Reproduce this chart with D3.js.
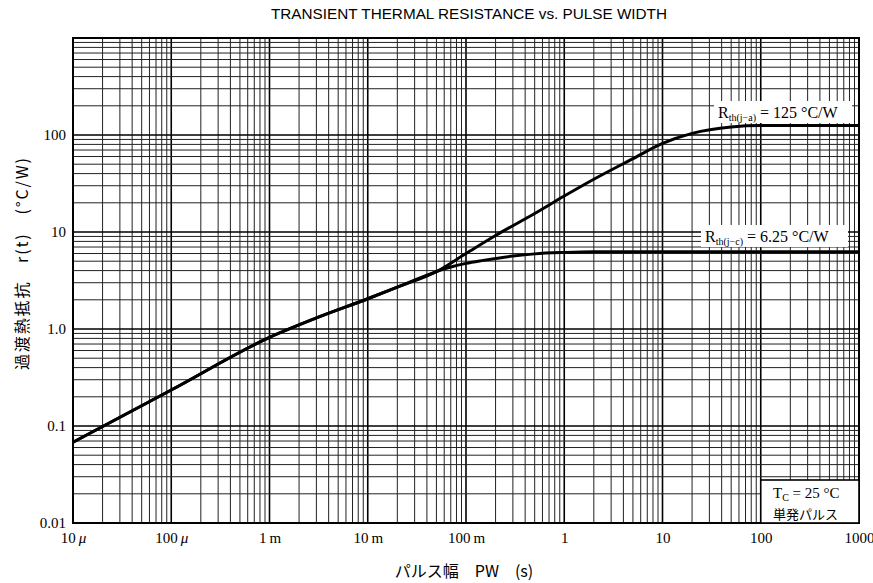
<!DOCTYPE html>
<html>
<head>
<meta charset="utf-8">
<script src="https://cdn.jsdelivr.net/npm/d3@7"></script>
<style>
body { margin: 0; background: #fff; }
svg { display: block; }
.tick text { font-family: "Liberation Serif", "DejaVu Serif", serif; }
</style>
</head>
<body>
<svg width="873" height="583"></svg>
<script>
// pulse width (s) and r(t) (°C/W)
var jaT = [1e-5, 1e-4, 1e-3, 3e-3, 1e-2, 2e-2, 5e-2, 0.1, 0.2, 0.5, 1, 2, 5, 10, 20, 50, 100, 1000]
var jaR = [0.068, 0.235, 0.82, 1.3, 2.05, 2.7, 3.9, 6.0, 9.2, 15.5, 23.5, 35, 57, 82, 104, 121, 125, 125]

var jcT = [1e-5, 1e-4, 1e-3, 3e-3, 1e-2, 2e-2, 5e-2, 0.07, 0.1, 0.15, 0.3, 0.5, 1, 2, 1000]
var jcR = [0.068, 0.235, 0.82, 1.3, 2.05, 2.7, 3.9, 4.35, 4.75, 5.1, 5.65, 5.95, 6.15, 6.25, 6.25]

var xTicks = [1e-5, 1e-4, 1e-3, 1e-2, 1e-1, 1, 10, 100, 1000]
var xTickNum = ["10", "100", "1", "10", "100", "1", "10", "100", "1000"]
var xTickUnit = ["μ", "μ", "m", "m", "m", "", "", "", ""]

var yTicks = [0.01, 0.1, 1, 10, 100]
var yTickLabels = ["0.01", "0.1", "1.0", "10", "100"]

var svg = d3.select("svg")
var pl = 73, pr = 859, pt = 38, pb = 523

var x = d3.scaleLog().domain([1e-5, 1e3]).range([pl, pr])
var y = d3.scaleLog().domain([0.01, 1000]).range([pb, pt])

// log paper grid
var grid = svg.append("g")
var xLines = [], yLines = []
for (var d = -5; d < 3; d++)
	for (var m = 1; m < 10; m++) xLines.push({v: m * Math.pow(10, d), major: m == 1})
xLines.push({v: 1000, major: true})
for (var d = -2; d < 3; d++)
	for (var m = 1; m < 10; m++) yLines.push({v: m * Math.pow(10, d), major: m == 1})
yLines.push({v: 1000, major: true})

grid.selectAll("line.v").data(xLines).enter().append("line")
	.attr("x1", function(d) { return x(d.v) }).attr("x2", function(d) { return x(d.v) })
	.attr("y1", pt).attr("y2", pb)
	.attr("stroke", function(d) { return d.major ? "#000" : "#222" })
	.attr("stroke-width", function(d) { return d.major ? 1.6 : 1 })
grid.selectAll("line.h").data(yLines).enter().append("line")
	.attr("y1", function(d) { return y(d.v) }).attr("y2", function(d) { return y(d.v) })
	.attr("x1", pl).attr("x2", pr)
	.attr("stroke", function(d) { return d.major ? "#000" : "#222" })
	.attr("stroke-width", function(d) { return d.major ? 1.6 : 1 })

svg.append("rect").attr("x", pl).attr("y", pt)
	.attr("width", pr - pl).attr("height", pb - pt)
	.attr("fill", "none").attr("stroke", "#000").attr("stroke-width", 2)

// curves
var line = d3.line().curve(d3.curveMonotoneX)
	.x(function(d) { return x(d[0]) }).y(function(d) { return y(d[1]) })
svg.append("path").datum(d3.zip(jcT, jcR)).attr("d", line)
	.attr("fill", "none").attr("stroke", "#000").attr("stroke-width", 3)
svg.append("path").datum(d3.zip(jaT, jaR)).attr("d", line)
	.attr("fill", "none").attr("stroke", "#000").attr("stroke-width", 3)

// axes labels
var xAxis = svg.append("g").attr("transform", "translate(0," + (pb + 6) + ")")
	.call(d3.axisBottom(x).tickValues(xTicks).tickSize(0).tickFormat(function(d, i) { return xTickNum[i] }))
xAxis.select(".domain").remove()
xAxis.selectAll("text").attr("font-size", 15).attr("fill", "#000")
	.each(function(d, i) {
		if (xTickUnit[i]) {
			d3.select(this).append("tspan").text("\u2009")
			d3.select(this).append("tspan").text(xTickUnit[i])
				.attr("font-style", xTickUnit[i] == "μ" ? "italic" : null)
		}
	})

var yAxis = svg.append("g").attr("transform", "translate(" + (pl - 4) + ",0)")
	.call(d3.axisLeft(y).tickValues(yTicks).tickSize(0).tickFormat(function(d, i) { return yTickLabels[i] }))
yAxis.select(".domain").remove()
yAxis.selectAll("text").attr("font-size", 15).attr("fill", "#000")

// title
svg.append("text").attr("x", 469).attr("y", 19).attr("text-anchor", "middle")
	.attr("font-family", "Liberation Sans, Arial, sans-serif").attr("font-size", 14)
	.attr("textLength", 396).attr("lengthAdjust", "spacingAndGlyphs")
	.text("TRANSIENT THERMAL RESISTANCE vs. PULSE WIDTH")

// axis titles
svg.append("text").attr("x", 464).attr("y", 577).attr("text-anchor", "middle")
	.attr("font-family", "Noto Sans CJK JP, sans-serif").attr("font-size", 16)
	.text("パルス幅　PW　(s)")
svg.append("text").attr("transform", "translate(28,264) rotate(-90)").attr("text-anchor", "middle")
	.attr("font-family", "Noto Sans CJK JP, sans-serif").attr("font-size", 16)
	.attr("textLength", 212).attr("lengthAdjust", "spacing")
	.text("過渡熱抵抗　r(t)　(°C/W)")

// curve annotations
function rthLabel(xp, yp, sub, val, w) {
	svg.append("rect").attr("x", xp - 4).attr("y", yp - 17).attr("width", w).attr("height", 22).attr("fill", "#fff")
	var t = svg.append("text").attr("x", xp).attr("y", yp)
		.attr("font-family", "Liberation Serif, DejaVu Serif, serif").attr("font-size", 16)
	t.append("tspan").text("R")
	t.append("tspan").attr("font-size", 10).attr("dy", 3).text(sub)
	t.append("tspan").attr("dy", -3).text(" = " + val + " °C/W")
}
rthLabel(718, 118, "th(j−a)", "125", 138)
rthLabel(705, 242, "th(j−c)", "6.25", 147)

// condition box
svg.append("rect").attr("x", x(100)).attr("y", 480).attr("width", pr - x(100)).attr("height", pb - 480)
	.attr("fill", "#fff").attr("stroke", "#000").attr("stroke-width", 1.6)
var tc = svg.append("text").attr("x", 773).attr("y", 498)
	.attr("font-family", "Liberation Serif, DejaVu Serif, serif").attr("font-size", 15)
tc.append("tspan").text("T")
tc.append("tspan").attr("font-size", 10).attr("dy", 3).text("C")
tc.append("tspan").attr("dy", -3).text(" = 25 °C")
svg.append("text").attr("x", 773).attr("y", 519)
	.attr("font-family", "Noto Sans CJK JP, sans-serif").attr("font-size", 13)
	.text("単発パルス")
</script>
</body>
</html>
